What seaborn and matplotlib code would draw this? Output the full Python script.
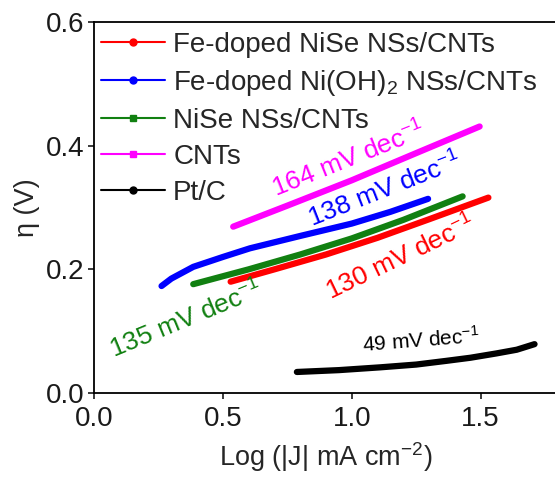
import matplotlib

matplotlib.use("Agg")
import matplotlib.pyplot as plt
from matplotlib.lines import Line2D
import pandas as pd
import seaborn as sns

sns.set_theme(style="ticks")
plt.rcParams["font.family"] = ["Liberation Sans", "DejaVu Sans"]
plt.rcParams["mathtext.fontset"] = "custom"
plt.rcParams["mathtext.rm"] = "Liberation Sans"
plt.rcParams["mathtext.it"] = "Liberation Sans:italic"
plt.rcParams["mathtext.default"] = "regular"

# Tafel data (log|J|, overpotential in V)
red_x = [0.53, 0.70, 0.90, 1.10, 1.30, 1.53]
red_y = [0.180, 0.200, 0.224, 0.251, 0.281, 0.316]

blue_x = [0.262, 0.30, 0.385, 0.50, 0.605, 0.80, 1.00, 1.15, 1.296]
blue_y = [0.173, 0.185, 0.204, 0.220, 0.234, 0.254, 0.274, 0.293, 0.314]

green_x = [0.385, 0.60, 0.80, 1.00, 1.20, 1.43]
green_y = [0.176, 0.200, 0.224, 0.250, 0.280, 0.318]

pink_x = [0.54, 0.75, 1.00, 1.25, 1.496]
pink_y = [0.269, 0.303, 0.344, 0.388, 0.431]

black_x = [0.787, 0.95, 1.11, 1.25, 1.367, 1.46, 1.561, 1.64, 1.709]
black_y = [0.034, 0.037, 0.0415, 0.046, 0.052, 0.057, 0.064, 0.070, 0.079]

labels = [
    "Fe-doped NiSe NSs/CNTs",
    "Fe-doped Ni(OH)$_2$ NSs/CNTs",
    "NiSe NSs/CNTs",
    "CNTs",
    "Pt/C",
]
colors = ["#ff0000", "#0000ff", "#118011", "#ff00ff", "#000000"]
markers = ["o", "o", "s", "s", "o"]
series = [(red_x, red_y), (blue_x, blue_y), (green_x, green_y),
          (pink_x, pink_y), (black_x, black_y)]

# slope labels: text, x, y, rotation, size
slope_text = ["164 mV dec$^{-1}$", "138 mV dec$^{-1}$", "130 mV dec$^{-1}$",
              "135 mV dec$^{-1}$", "49 mV dec$^{-1}$"]
slope_x = [0.99, 1.13, 1.19, 0.357, 1.27]
slope_y = [0.377, 0.328, 0.218, 0.118, 0.086]
slope_rot = [21.7, 21.4, 25.6, 22.4, 4.5]
slope_col = ["#ff00ff", "#0000ff", "#ff0000", "#118011", "#000000"]
slope_size = [19, 19, 19, 19, 15]

fig = plt.figure(figsize=(5.55, 4.79), dpi=100)
ax = fig.add_axes([94 / 555, 86 / 479, 464 / 555, 371 / 479])

for (xs, ys), c in zip(series, colors):
    df = pd.DataFrame({"x": xs, "y": ys})
    sns.lineplot(data=df, x="x", y="y", ax=ax, color=c, linewidth=4.5,
                 estimator=None, sort=False, solid_capstyle="round")

for t, x, y, r, c, s in zip(slope_text, slope_x, slope_y, slope_rot,
                            slope_col, slope_size):
    ax.text(x, y, t, color=c, fontsize=s, rotation=r, rotation_mode="anchor",
            ha="center", va="center")

ax.set_xlim(0, 1.8)
ax.set_ylim(0, 0.6)
ax.set_xticks([0.0, 0.5, 1.0, 1.5])
ax.set_yticks([0.0, 0.2, 0.4, 0.6])
ax.set_xticklabels(["0.0", "0.5", "1.0", "1.5"])
ax.set_yticklabels(["0.0", "0.2", "0.4", "0.6"])
ax.tick_params(direction="out", length=4, width=1.2, labelsize=20,
               colors="#1a1a1a", pad=3)
ax.tick_params(axis="x", pad=5)
ax.set_xlabel("Log (|J| mA cm$^{-2}$)", fontsize=19.5, labelpad=6)
ax.set_ylabel("η (V)", fontsize=19.5, labelpad=4)
for side in ["left", "bottom", "top", "right"]:
    ax.spines[side].set_linewidth(1.3)
    ax.spines[side].set_color("black")

handles = [Line2D([0], [0], color=c, marker=m, markersize=5, linewidth=1.5)
           for c, m in zip(colors, markers)]
ax.legend(handles, labels, loc="upper left", bbox_to_anchor=(101 / 555, 1 - 32 / 479),
          bbox_transform=fig.transFigure, frameon=False, fontsize=20,
          handlelength=2.3, handletextpad=0.3, labelspacing=0.36,
          borderpad=0, borderaxespad=0)

fig.savefig("out.png", dpi=100)
